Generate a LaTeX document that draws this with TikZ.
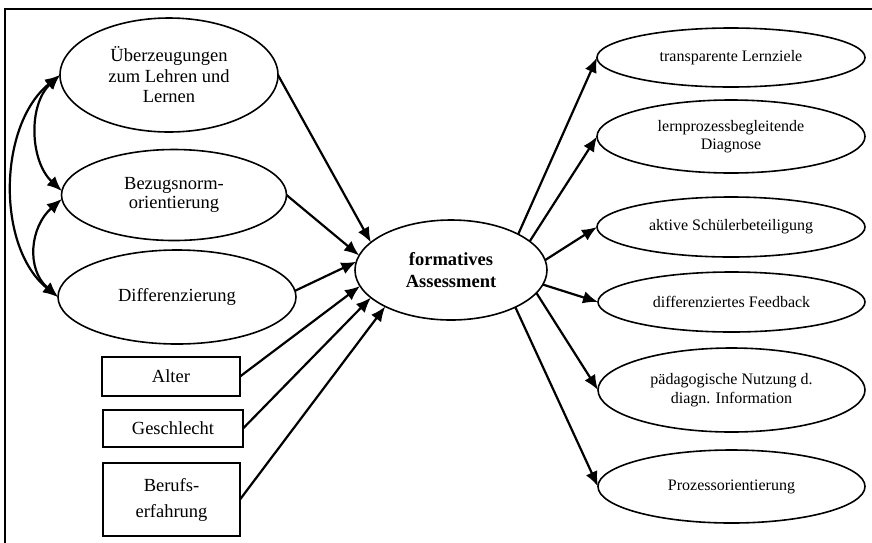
\documentclass[tikz,border=0pt]{standalone}
\usepackage{fontspec}
\setmainfont{Liberation Serif}
\usetikzlibrary{shapes.geometric,arrows.meta}
\tikzset{
  ell/.style={draw, ellipse, line width=1.6pt, inner sep=0pt, outer sep=0pt, align=center},
  lft/.style={font=\fontsize{18.5}{20.5}\selectfont},
  rgt/.style={font=\fontsize{16}{18.5}\selectfont},
  bx/.style={draw, rectangle, line width=2.2pt, inner sep=0pt, outer sep=0pt, align=center, font=\fontsize{18.5}{26}\selectfont},
  arr/.style={line width=2.2pt, -{Latex[length=15pt,width=12.5pt]}},
  barr/.style={line width=2.2pt, {Latex[length=15pt,width=12.5pt]}-{Latex[length=15pt,width=12.5pt]}},
}
\begin{document}
\begin{tikzpicture}[x=1pt,y=-1pt]
\useasboundingbox (0,0) rectangle (872,542);
\draw[line width=2.5pt] (5,548) -- (5,9) -- (878,9);

\node[ell,lft,minimum width=218pt,minimum height=114pt] (u) at (169,75) {Überzeugungen\\zum Lehren und\\Lernen};
\node[ell,lft,font=\fontsize{18.5}{18.5}\selectfont,minimum width=225pt,minimum height=91pt] (b) at (174,195) {Bezugsnorm-\\orientierung};
\node[ell,lft,minimum width=238pt,minimum height=94pt] (d) at (177,297) {Differenzierung};
\node[bx,minimum width=138pt,minimum height=39pt] (alter) at (171,376.5) {Alter};
\node[bx,minimum width=140pt,minimum height=37pt] (ges) at (173,428.5) {Geschlecht};
\node[bx,minimum width=137pt,minimum height=73pt] (beruf) at (171.5,499.5) {Berufs-\\erfahrung};

\node[ell,font=\fontsize{18.5}{22.5}\selectfont\bfseries,minimum width=192pt,minimum height=100pt] (f) at (451,270) {formatives\\Assessment};

\node[ell,rgt,minimum width=268pt,minimum height=59pt] (t1) at (731,57.5) {transparente Lernziele};
\node[ell,rgt,minimum width=268pt,minimum height=73pt] (t2) at (731,136.5) {lernprozessbegleitende\\Diagnose};
\node[ell,rgt,minimum width=268pt,minimum height=60pt] (t3) at (731,227) {aktive Schülerbeteiligung};
\node[ell,rgt,minimum width=267pt,minimum height=60pt] (t4) at (731.5,302) {differenziertes Feedback};
\node[ell,rgt,minimum width=267pt,minimum height=84pt] (t5) at (731.5,390) {pädagogische Nutzung d.\\diagn. Information};
\node[ell,rgt,minimum width=267pt,minimum height=73pt] (t6) at (731.5,486.5) {Prozessorientierung};

% incoming
\draw[arr] (u.east) -- (f.161);
\draw[arr] (b.east) -- (f.171);
\draw[arr] (d.3) -- (f.175);
\draw[arr] (alter.east) -- (f.190);
\draw[arr] (ges.east) -- (f.199);
\draw[arr] (beruf.east) -- (f.209);

% outgoing
\draw[arr] (f.28) -- (t1.west);
\draw[arr] (f.20) -- (t2.west);
\draw[arr] (f.6) -- (t3.west);
\draw[arr] (f.-9) -- (t4.west);
\draw[arr] (f.-15) -- (t5.west);
\draw[arr] (f.-30) -- (t6.west);

% correlations
\draw[barr] (u.west) .. controls +(-32,30) and +(-32,-30) .. (b.178);
\draw[barr] (b.182) .. controls +(-32,28) and +(-32,-28) .. (d.west);
\draw[barr] (u.west) .. controls +(-62,50) and +(-62,-50) .. (d.west);
\end{tikzpicture}
\end{document}
